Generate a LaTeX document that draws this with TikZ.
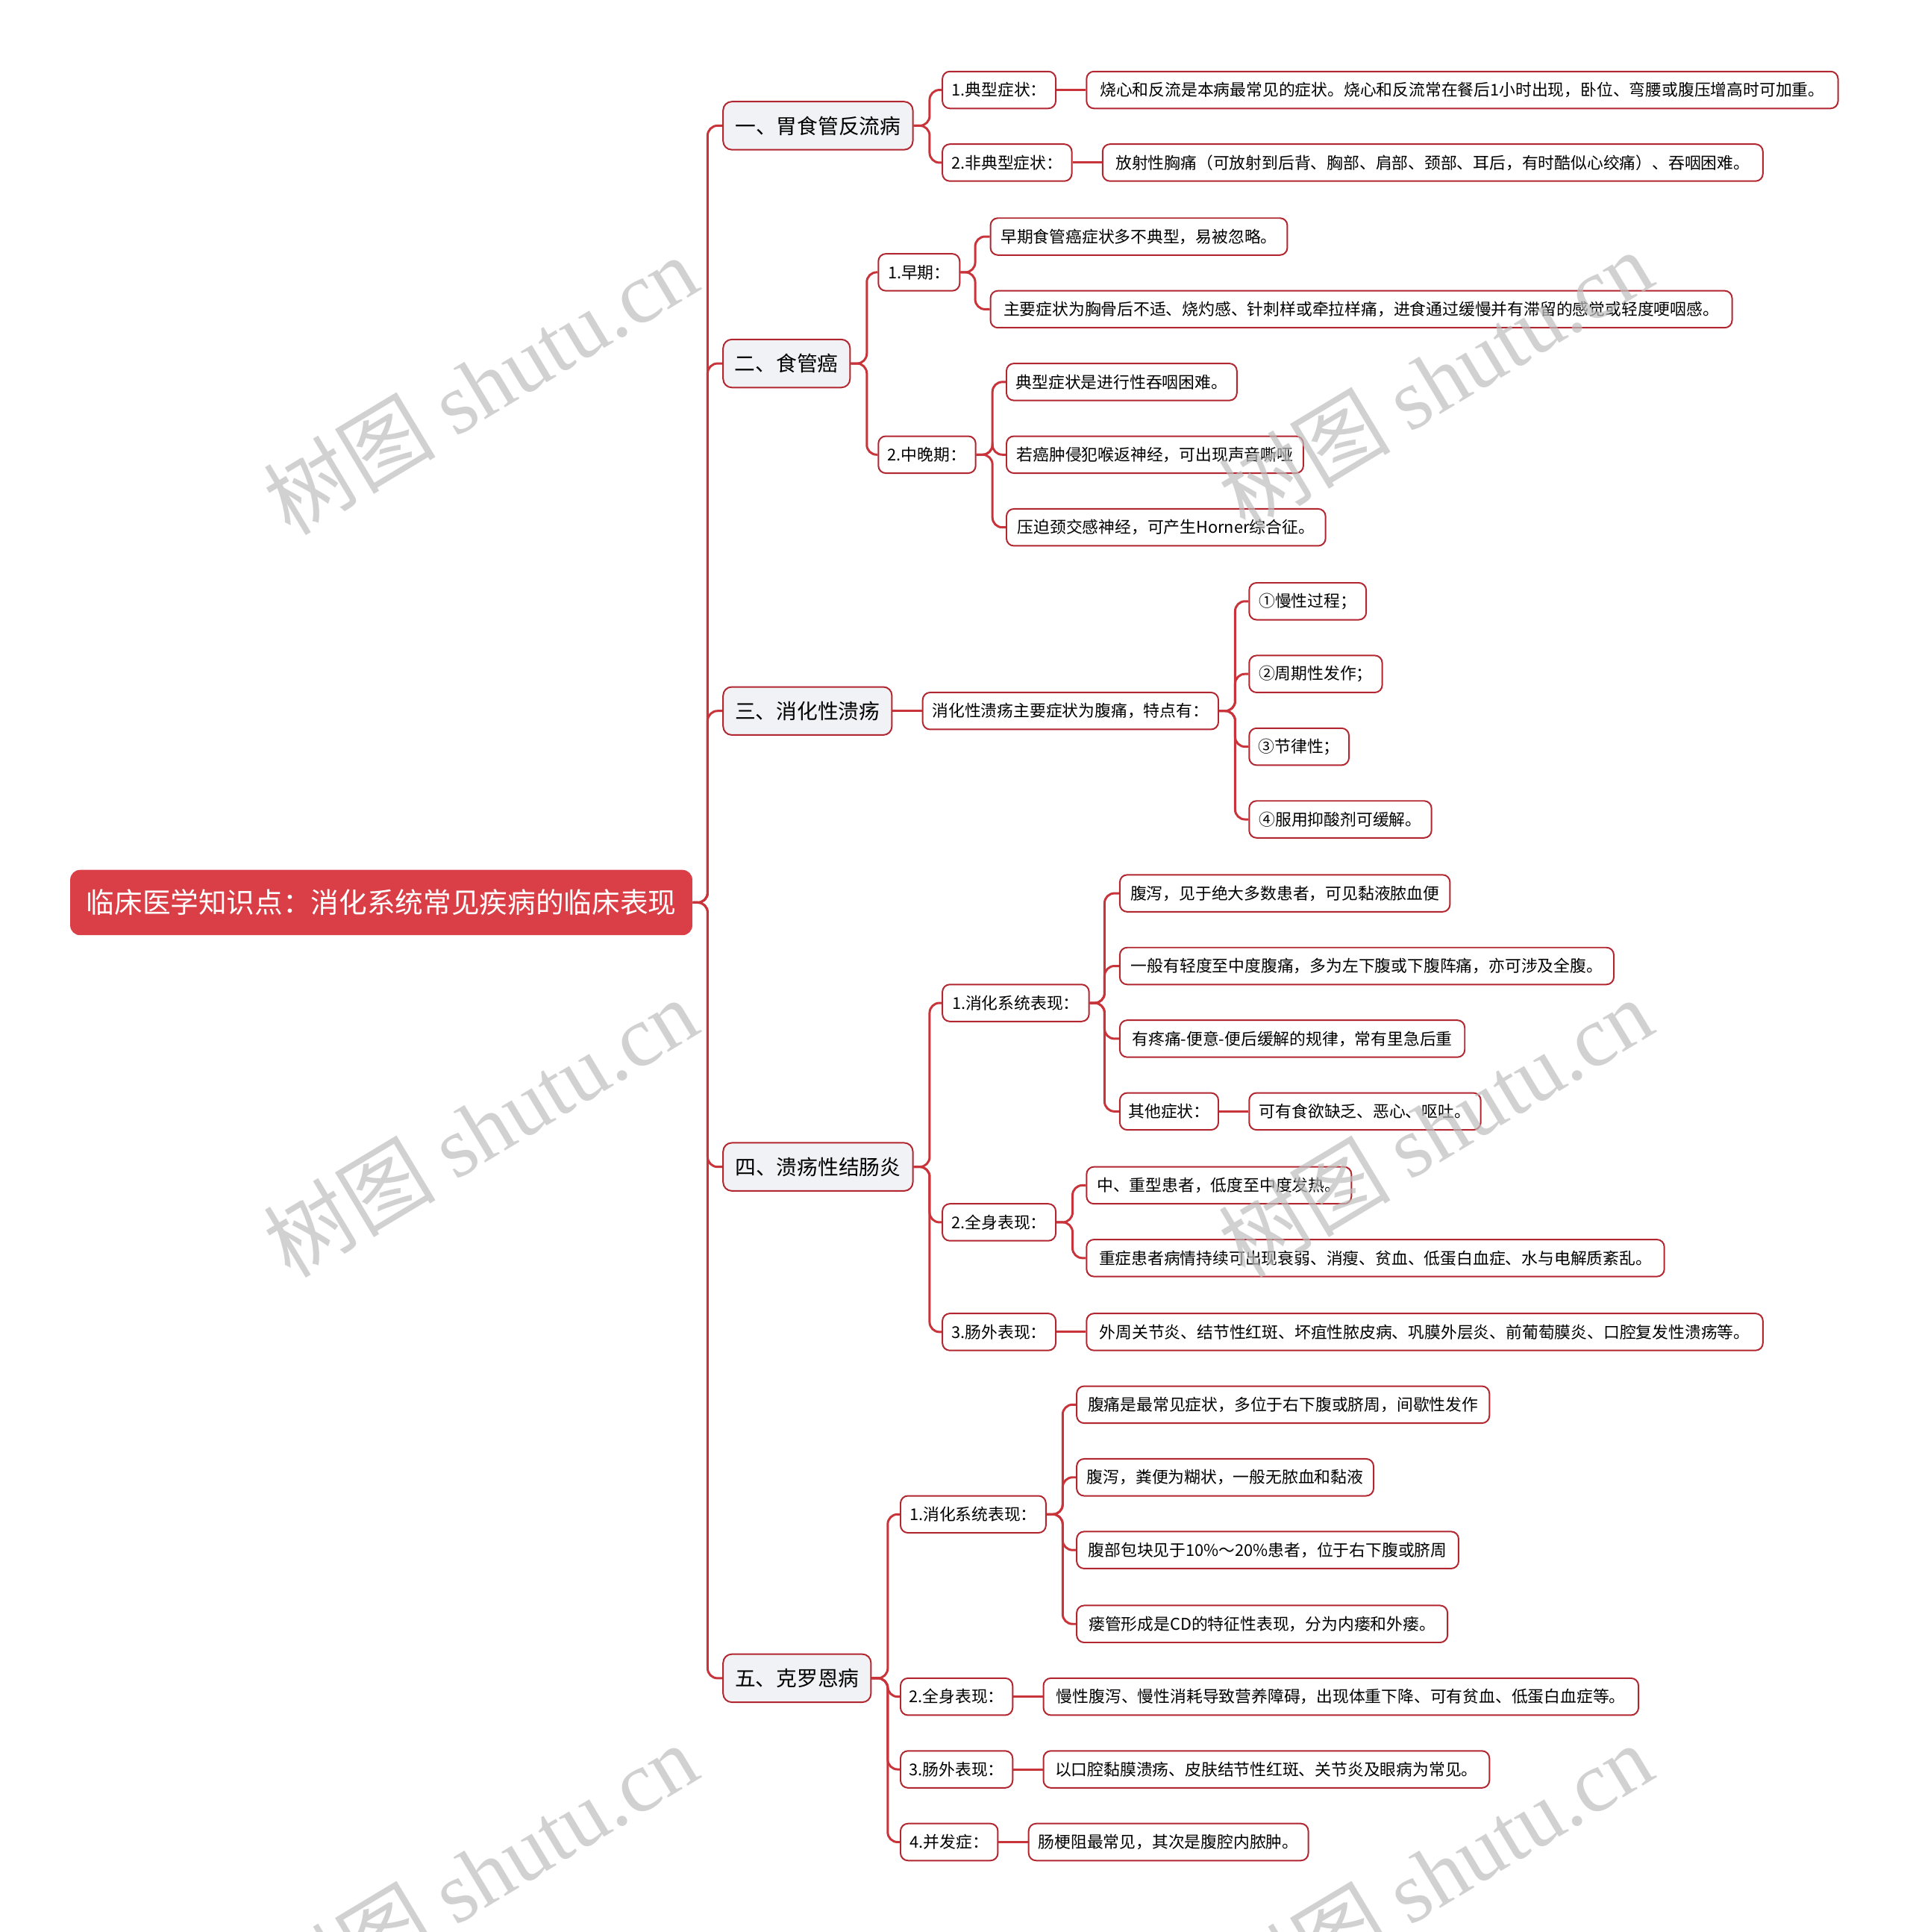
\documentclass[tikz,border=0pt]{standalone}
\usepackage{fontspec}
\setmainfont{Noto Sans CJK SC}
\newfontfamily\wmlatin{Liberation Serif}
\definecolor{rootred}{RGB}{218,62,70}
\definecolor{lnred}{RGB}{200,52,58}
\definecolor{bdred}{RGB}{178,38,48}
\definecolor{lgray}{RGB}{240,242,245}
\definecolor{wmgray}{RGB}{190,190,190}
\tikzset{
  conn/.style={draw=lnred, line width=0.9pt, rounded corners=4pt},
  rootn/.style={fill=rootred, text=white, rounded corners=4pt, minimum height=26.5pt, inner sep=0pt, font=\fontsize{11.4pt}{13pt}\selectfont},
  lone/.style={fill=lgray, draw=bdred, line width=0.6pt, rounded corners=3.5pt, minimum height=19.5pt, inner sep=0pt, font=\fontsize{8.4pt}{10pt}\selectfont},
  leaf/.style={fill=white, draw=bdred, line width=0.6pt, rounded corners=3pt, minimum height=15pt, inner sep=0pt, font=\fontsize{6.6pt}{8pt}\selectfont},
  wm/.style={text=wmgray, opacity=0.7, rotate=31, inner sep=0pt}
}
\begin{document}
\begin{tikzpicture}[x=0.5pt,y=-0.5pt]
\useasboundingbox (0,0) rectangle (1550,1568);
% root
\node[rootn, minimum width=252.5pt] (root) at (309.5,732.5) {临床医学知识点：消化系统常见疾病的临床表现};
% level 1
\node[lone, minimum width=77pt] (b1) at (664,102) {一、胃食管反流病};
\node[lone, minimum width=51.5pt] (b2) at (638.5,295) {二、食管癌};
\node[lone, minimum width=68.5pt] (b3) at (655.5,577) {三、消化性溃疡};
\node[lone, minimum width=77pt] (b4) at (664,947) {四、溃疡性结肠炎};
\node[lone, minimum width=60pt] (b5) at (647,1362) {五、克罗恩病};
% branch 1
\node[leaf, minimum width=46pt] (a1) at (811,73) {1.典型症状：};
\node[leaf, minimum width=305pt] (a1L) at (1187,73) {烧心和反流是本病最常见的症状。烧心和反流常在餐后1小时出现，卧位、弯腰或腹压增高时可加重。};
\node[leaf, minimum width=52.5pt] (a2) at (817.5,132) {2.非典型症状：};
\node[leaf, minimum width=268pt] (a2L) at (1163,132) {放射性胸痛（可放射到后背、胸部、肩部、颈部、耳后，有时酷似心绞痛）、吞咽困难。};
% branch 2
\node[leaf, minimum width=33pt] (c1) at (746,221) {1.早期：};
\node[leaf, minimum width=120.5pt] (c1a) at (924.5,192) {早期食管癌症状多不典型，易被忽略。};
\node[leaf, minimum width=301pt] (c1b) at (1105,251) {主要症状为胸骨后不适、烧灼感、针刺样或牵拉样痛，进食通过缓慢并有滞留的感觉或轻度哽咽感。};
\node[leaf, minimum width=39.5pt] (c2) at (752.5,369) {2.中晚期：};
\node[leaf, minimum width=93.5pt] (c2a) at (910.5,310) {典型症状是进行性吞咽困难。};
\node[leaf, minimum width=120.5pt] (c2b) at (937.5,369) {若癌肿侵犯喉返神经，可出现声音嘶哑};
\node[leaf, minimum width=129.5pt] (c2c) at (946.5,428) {压迫颈交感神经，可产生Horner综合征。};
% branch 3
\node[leaf, minimum width=120pt] (d1) at (869,577) {消化性溃疡主要症状为腹痛，特点有：};
\node[leaf, minimum width=47.5pt] (d1a) at (1061.5,488) {①慢性过程；};
\node[leaf, minimum width=54pt] (d1b) at (1068,547) {②周期性发作；};
\node[leaf, minimum width=40.5pt] (d1c) at (1054.5,606) {③节律性；};
\node[leaf, minimum width=74pt] (d1d) at (1088,665) {④服用抑酸剂可缓解。};
% branch 4
\node[leaf, minimum width=59.5pt] (e1) at (824.5,814) {1.消化系统表现：};
\node[leaf, minimum width=134pt] (e1a) at (1043,725) {腹泻，见于绝大多数患者，可见黏液脓血便};
\node[leaf, minimum width=200.5pt] (e1b) at (1109.5,784) {一般有轻度至中度腹痛，多为左下腹或下腹阵痛，亦可涉及全腹。};
\node[leaf, minimum width=140pt] (e1c) at (1049,843) {有疼痛-便意-便后缓解的规律，常有里急后重};
\node[leaf, minimum width=40pt] (e1d) at (949,902) {其他症状：};
\node[leaf, minimum width=94pt] (e1d1) at (1108,902) {可有食欲缺乏、恶心、呕吐。};
\node[leaf, minimum width=46pt] (e2) at (811,992) {2.全身表现：};
\node[leaf, minimum width=107.5pt] (e2a) at (989.5,962) {中、重型患者，低度至中度发热。};
\node[leaf, minimum width=234.5pt] (e2b) at (1116.5,1021) {重症患者病情持续可出现衰弱、消瘦、贫血、低蛋白血症、水与电解质紊乱。};
\node[leaf, minimum width=46pt] (e3) at (811,1081) {3.肠外表现：};
\node[leaf, minimum width=274.5pt] (e3a) at (1156.5,1081) {外周关节炎、结节性红斑、坏疽性脓皮病、巩膜外层炎、前葡萄膜炎、口腔复发性溃疡等。};
% branch 5
\node[leaf, minimum width=59pt] (f1) at (790,1229) {1.消化系统表现：};
\node[leaf, minimum width=167.5pt] (f1a) at (1041.5,1140) {腹痛是最常见症状，多位于右下腹或脐周，间歇性发作};
\node[leaf, minimum width=120.5pt] (f1b) at (994.5,1199) {腹泻，粪便为糊状，一般无脓血和黏液};
\node[leaf, minimum width=155pt] (f1c) at (1029,1258) {腹部包块见于10\%～20\%患者，位于右下腹或脐周};
\node[leaf, minimum width=150.5pt] (f1d) at (1024.5,1318) {瘘管形成是CD的特征性表现，分为内瘘和外瘘。};
\node[leaf, minimum width=45.5pt] (f2) at (776.5,1377) {2.全身表现：};
\node[leaf, minimum width=241.5pt] (f2a) at (1088.5,1377) {慢性腹泻、慢性消耗导致营养障碍，出现体重下降、可有贫血、低蛋白血症等。};
\node[leaf, minimum width=45.5pt] (f3) at (776.5,1436) {3.肠外表现：};
\node[leaf, minimum width=181pt] (f3a) at (1028,1436) {以口腔黏膜溃疡、皮肤结节性红斑、关节炎及眼病为常见。};
\node[leaf, minimum width=39.5pt] (f4) at (770.5,1495) {4.并发症：};
\node[leaf, minimum width=113.5pt] (f4a) at (948.5,1495) {肠梗阻最常见，其次是腹腔内脓肿。};
% connectors
\foreach \c in {b1,b2,b3,b4,b5} \draw[conn] (root.east) -- ++(12,0) |- (\c.west);
\foreach \c in {a1,a2} \draw[conn] (b1.east) -- ++(13,0) |- (\c.west);
\draw[conn] (a1.east) -- (a1L.west);
\draw[conn] (a2.east) -- (a2L.west);
\foreach \c in {c1,c2} \draw[conn] (b2.east) -- ++(13,0) |- (\c.west);
\foreach \c in {c1a,c1b} \draw[conn] (c1.east) -- ++(12,0) |- (\c.west);
\foreach \c in {c2a,c2b,c2c} \draw[conn] (c2.east) -- ++(13,0) |- (\c.west);
\draw[conn] (b3.east) -- (d1.west);
\foreach \c in {d1a,d1b,d1c,d1d} \draw[conn] (d1.east) -- ++(13,0) |- (\c.west);
\foreach \c in {e1,e2,e3} \draw[conn] (b4.east) -- ++(13,0) |- (\c.west);
\foreach \c in {e1a,e1b,e1c,e1d} \draw[conn] (e1.east) -- ++(12,0) |- (\c.west);
\draw[conn] (e1d.east) -- (e1d1.west);
\foreach \c in {e2a,e2b} \draw[conn] (e2.east) -- ++(13,0) |- (\c.west);
\draw[conn] (e3.east) -- (e3a.west);
\foreach \c in {f1,f2,f3,f4} \draw[conn] (b5.east) -- ++(13,0) |- (\c.west);
\foreach \c in {f1a,f1b,f1c,f1d} \draw[conn] (f1.east) -- ++(13,0) |- (\c.west);
\draw[conn] (f2.east) -- (f2a.west);
\draw[conn] (f3.east) -- (f3a.west);
\draw[conn] (f4.east) -- (f4a.west);
% watermarks
\foreach \wx/\wy [count=\i] in {390/312,1165/308,390/915,1165/915,390/1520,1165/1520}
  \node[wm] (wm\i) at (\wx,\wy) {\fontsize{35pt}{40pt}\selectfont 树图 \wmlatin shutu.cn};
\end{tikzpicture}
\end{document}
